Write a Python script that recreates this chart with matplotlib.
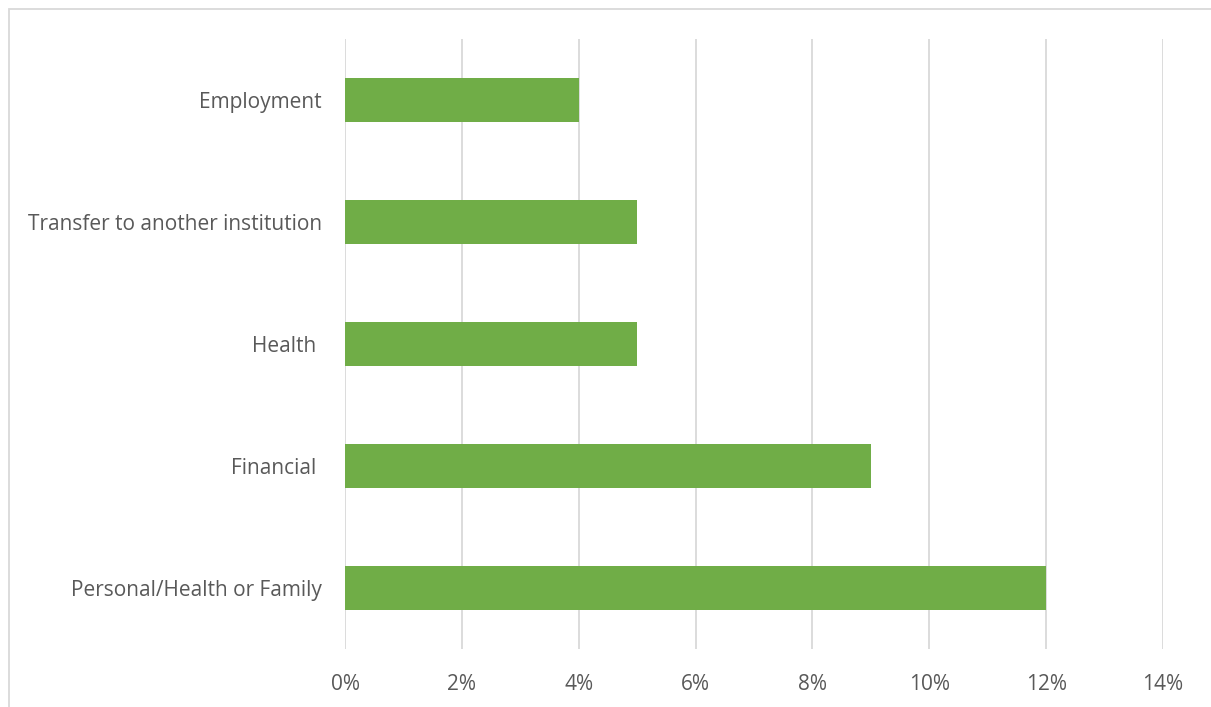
import matplotlib.pyplot as plt
from matplotlib.patches import Rectangle
from matplotlib.ticker import FuncFormatter

categories = ['Personal/Health or Family', 'Financial ', 'Health ',
              'Transfer to another institution', 'Employment']
values = [12, 9, 5, 5, 4]
xticks = [0, 2, 4, 6, 8, 10, 12, 14]

plt.rcParams['font.family'] = ['Open Sans', 'DejaVu Sans']
text_color = '#595959'

fig = plt.figure(figsize=(12.11, 7.07), dpi=100)
ax = fig.add_axes([345 / 1211, 1 - 649 / 707, 818 / 1211, 610 / 707])

ax.barh(range(len(categories)), values, height=0.36, color='#70ad47', zorder=3)
ax.set_ylim(-0.5, len(categories) - 0.5)
ax.set_xlim(0, 14)
ax.set_xticks(xticks)
ax.xaxis.set_major_formatter(FuncFormatter(lambda v, p: f'{v:.0f}%'))
ax.set_yticks(range(len(categories)))
ax.set_yticklabels(categories)

ax.grid(axis='x', color='#d9d9d9', linewidth=1.3, zorder=0)
for s in ax.spines.values():
    s.set_visible(False)
ax.tick_params(axis='both', length=0, labelsize=15, colors=text_color)
ax.tick_params(axis='x', pad=18)
ax.tick_params(axis='y', pad=16.5)

# outer chart frame
fig.patches.append(Rectangle((9 / 1211, -0.1), 1.2, 1 - 9 / 707 + 0.1,
                             transform=fig.transFigure, fill=False,
                             edgecolor='#d9d9d9', linewidth=1.3))

fig.savefig('out.png', dpi=100)
